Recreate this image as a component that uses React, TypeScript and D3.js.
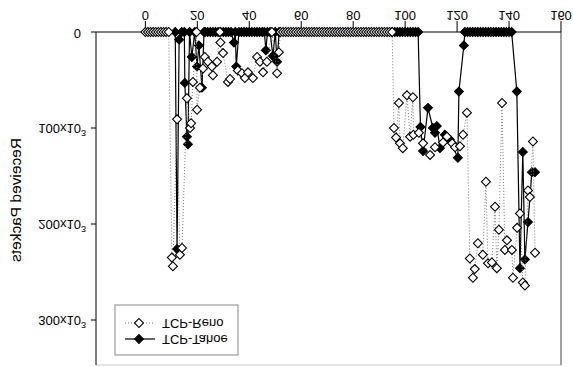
import React from 'react';
import * as d3 from 'd3';

// x ticks (time) and y ticks (received packets, in thousands)
const xTicks = [0, 20, 40, 60, 80, 100, 120, 140, 160];
const yTicks = [0, 100, 200, 300];
const seriesNames = ['TCP-Reno', 'TCP-Tahoe'];

// TCP-Reno: samples sitting on the zero line
const renoIdleX = [0, 1, 2, 3, 4, 5, 6, 7, 8, 9, 19.7, 28.7, 48.7, 52,
  53, 54, 55, 56, 57, 58, 59, 60, 61, 62, 63, 64, 65, 66, 67, 68, 69, 70, 71, 72, 73, 74,
  75, 76, 77, 78, 79, 80, 81, 82, 83, 84, 85, 86, 87, 88, 89, 90, 91, 92, 93, 94, 95];
// TCP-Reno: non-zero samples [time, packets x1000]
const renoBursts: [number, number][] = [
  [10.2, 235], [10.6, 244], [12.2, 91], [13.3, 232], [14.1, 225], [16.0, 69], [17.2, 100],
  [17.6, 95], [18.3, 52], [19.9, 81], [21.0, 58], [22.2, 38], [22.9, 26], [24.1, 31],
  [25.6, 36], [26.0, 45], [27.6, 31], [28.9, 11], [29.9, 22], [31.8, 52], [32.6, 49],
  [35.6, 40], [37.2, 43], [38.3, 48], [39.5, 42], [41.4, 48], [43.0, 26], [44.1, 31],
  [45.3, 42], [46.8, 31], [50.7, 43], [51.4, 21],
  [95.7, 100], [96.5, 110], [97.6, 74], [98.0, 116], [99.1, 121], [100.7, 66], [101.9, 109],
  [103.0, 68], [103.2, 107], [105.3, 105], [106.9, 116], [109.6, 128], [111.5, 120],
  [114.6, 115], [116.1, 109], [118.1, 116], [119.2, 120], [121.1, 119], [122.3, 107],
  [123.8, 84], [124.9, 236], [126.1, 256], [126.8, 247], [128.0, 220], [129.9, 232],
  [131.1, 156], [131.9, 241], [133.4, 240], [134.6, 182], [135.3, 246], [136.1, 206],
  [137.3, 74], [138.4, 227], [139.2, 217], [141.1, 227], [141.5, 256], [143.1, 204],
  [144.2, 189], [145.3, 261], [146.1, 264], [147.3, 165], [148.0, 172], [149.2, 114],
  [150.0, 230],
];

// TCP-Tahoe: samples sitting on the zero line
const tahoeIdleX = [11.5, 14, 15, 17, 19, 22.6, 23, 24, 25, 26, 27, 28, 29, 30, 31, 32, 33,
  34.6, 36, 37, 38, 39, 40, 41, 42, 43, 44, 45, 45.8, 47, 48, 50, 51.5,
  95, 96, 97, 98, 99, 100, 101, 102, 103, 104, 105,
  123, 124, 125, 126, 127, 128, 129, 130, 131, 132, 133, 134, 135, 136, 137, 138, 139, 140, 141];
// TCP-Tahoe: non-zero samples [time, packets x1000]
const tahoeBursts: [number, number][] = [
  [12.2, 226], [13.0, 8], [15.2, 53], [16.0, 109], [16.4, 117], [17.9, 26], [19.9, 36],
  [20.6, 14], [21.8, 58], [34.1, 11], [35.0, 36], [46.4, 19], [49.1, 25], [50.7, 31],
  [105.9, 99], [106.9, 124], [108.8, 79], [110.7, 100], [111.5, 105], [112.2, 98],
  [113.4, 121], [115.3, 107], [117.2, 112], [120.3, 131], [120.7, 62], [122.6, 14],
  [143.0, 62], [144.2, 246], [145.3, 125], [146.1, 237], [147.3, 198], [148.8, 146],
  [150.0, 146],
];

const FONT = 'Liberation Sans, Arial, sans-serif';

function build(idle: number[], bursts: [number, number][]): [number, number][] {
  const pts: [number, number][] = idle.map((v) => [v, 0] as [number, number]).concat(bursts);
  return pts.sort((a, b) => a[0] - b[0]);
}

// Text that is mirrored vertically (the whole reference is flipped upside down)
function FlipText(props: { x: number; y: number; anchor?: string; size?: number; children: React.ReactNode }) {
  const { x, y, anchor = 'middle', size = 13, children } = props;
  return (
    <g transform={`translate(${x},${y}) scale(1,-1)`}>
      <text textAnchor={anchor} dominantBaseline="central" fontSize={size} fontFamily={FONT} fill="#000">
        {children}
      </text>
    </g>
  );
}

export default function App() {
  const W = 573, H = 367;
  const x = d3.scaleLinear().domain([-19, 160]).range([96, 561]);
  const y = d3.scaleLinear().domain([0, 300]).range([32, 320]);
  const reno = build(renoIdleX, renoBursts);
  const tahoe = build(tahoeIdleX, tahoeBursts);
  const line = d3.line<[number, number]>().x((d) => x(d[0])).y((d) => y(d[1]));
  const diamond = d3.symbol().type(d3.symbolSquare).size(40)() as string;
  const plotBottom = 365;

  return (
    <svg width={W} height={H} style={{ position: 'absolute', left: 0, top: 0, background: '#fff' }}>
      <rect x={0} y={0} width={W} height={H} fill="#fff" />
      {/* plot frame pieces */}
      <line x1={x(-19)} x2={x(160)} y1={plotBottom} y2={plotBottom} stroke="#ccc" strokeWidth={1} />
      <line x1={x(160)} x2={x(160)} y1={y(0)} y2={plotBottom} stroke="#444" strokeWidth={1} />
      {/* x axis */}
      <line x1={x(-19)} x2={x(160)} y1={y(0)} y2={y(0)} stroke="#000" strokeWidth={1} />
      {xTicks.map((t) => (
        <g key={'xt' + t}>
          <line x1={x(t)} x2={x(t)} y1={y(0)} y2={y(0) - 11} stroke="#000" strokeWidth={1} />
          <FlipText x={x(t)} y={15} size={13}>{String(t)}</FlipText>
        </g>
      ))}
      {/* y axis */}
      <line x1={x(-19)} x2={x(-19)} y1={y(0)} y2={plotBottom} stroke="#000" strokeWidth={1} />
      {yTicks.map((t) => (
        <g key={'yt' + t}>
          <line x1={x(-19) - 5} x2={x(-19)} y1={y(t)} y2={y(t)} stroke="#000" strokeWidth={1} />
          {t === 0 ? (
            <FlipText x={81} y={y(t) + 1} anchor="end" size={13}>0</FlipText>
          ) : (
            <FlipText x={86} y={y(t)} anchor="end" size={13}>
              {`${t}x10`}
              <tspan dy={-5} fontSize={9}>3</tspan>
            </FlipText>
          )}
        </g>
      ))}
      <g transform="translate(15,200) matrix(0,1,1,0,0,0)">
        <text textAnchor="middle" dominantBaseline="central" fontSize={15.5} fontFamily={FONT} fill="#000">
          Received Packets
        </text>
      </g>

      {/* TCP-Tahoe */}
      <path d={line(tahoe) || ''} fill="none" stroke="#000" strokeWidth={1.2} />
      {tahoe.map((d, i) => (
        <path key={'t' + i} d={diamond} transform={`translate(${x(d[0])},${y(d[1])}) rotate(45)`} fill="#000" stroke="#000" strokeWidth={1} />
      ))}
      {/* TCP-Reno */}
      <path d={line(reno) || ''} fill="none" stroke="#777" strokeWidth={1} strokeDasharray="1 2" />
      {reno.map((d, i) => (
        <path key={'r' + i} d={diamond} transform={`translate(${x(d[0])},${y(d[1])}) rotate(45)`} fill="#fff" stroke="#000" strokeWidth={1.1} />
      ))}

      {/* legend */}
      <rect x={115} y={305} width={123} height={50} fill="#fff" stroke="#888" strokeWidth={1} />
      <line x1={125} x2={153} y1={323} y2={323} stroke="#777" strokeWidth={1} strokeDasharray="1 2" />
      <path d={diamond} transform="translate(139,323) rotate(45)" fill="#fff" stroke="#000" strokeWidth={1.1} />
      <FlipText x={162} y={323} anchor="start" size={13}>{seriesNames[0]}</FlipText>
      <line x1={125} x2={155} y1={339} y2={339} stroke="#000" strokeWidth={1.2} />
      <path d={diamond} transform="translate(139,339) rotate(45)" fill="#000" stroke="#000" strokeWidth={1} />
      <FlipText x={162} y={339} anchor="start" size={13}>{seriesNames[1]}</FlipText>
    </svg>
  );
}
